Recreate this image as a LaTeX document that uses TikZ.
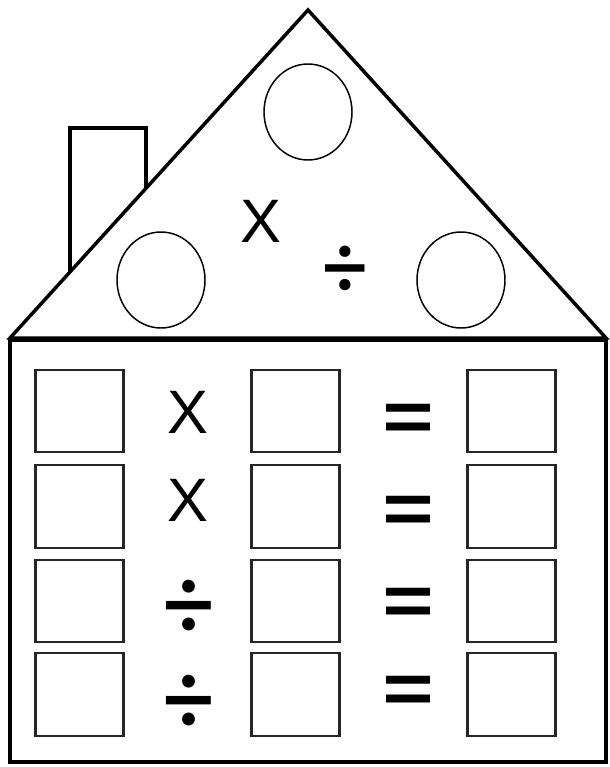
\documentclass[tikz,border=0pt]{standalone}
\usepackage{fontspec}
\setmainfont{Liberation Sans}
\newfontfamily\signfont{Poppins}[UprightFont=* Medium]
\usetikzlibrary{positioning,shapes.geometric}
\tikzset{
  wall/.style    = {draw=black, line width=2.6pt, line join=miter},
  flue/.style    = {draw=black, line width=2.4pt},
  ansbox/.style  = {draw=black!85, line width=1.7pt, minimum width=66pt,
                    minimum height=62pt, inner sep=0pt},
  ball/.style    = {ellipse, draw=black, line width=1.1pt, minimum width=66pt,
                    minimum height=72pt, inner sep=0pt},
  opsign/.style  = {font=\fontsize{46}{46}\selectfont, inner sep=0pt},
  divsign/.style = {font=\fontsize{66}{66}\selectfont\signfont, inner sep=0pt},
  eqsign/.style  = {font=\fontsize{62}{62}\selectfont\signfont, inner sep=0pt},
}

\begin{document}
\begin{tikzpicture}[x=0.75pt, y=-0.75pt]
  \useasboundingbox[fill=white] (0,0) rectangle (610,767);

  % chimney and roof
  \draw[flue] (70,272) -- (70,128) -- (146,128) -- (146,188);
  \draw[wall, fill=white] (10,338) -- (308,10) -- (606,338) -- cycle;
  \node[ball] (topball)   at (308,112) {};
  \node[ball] (leftball)  at (161,280) {};
  \node[ball] (rightball) at (461,280) {};
  \node[opsign]  (roofmul) at (261,221) {X};
  \node[divsign, scale=0.88] (roofdiv) at (345,271) {÷};

  % walls
  \draw[wall] (10,340) rectangle (606,762);

  % row 1
  \node[ansbox] (a1) at (79.5,411) {};
  \node[opsign] (o1) at (188,412) {X};
  \node[ansbox] (b1) at (295.5,411) {};
  \node[eqsign] (e1) at (408,426) {=};
  \node[ansbox] (c1) at (511.5,411) {};

  % row 2
  \node[ansbox] (a2) at (79.5,506.5) {};
  \node[opsign] (o2) at (188,500) {X};
  \node[ansbox] (b2) at (295.5,506.5) {};
  \node[eqsign] (e2) at (408,518) {=};
  \node[ansbox] (c2) at (511.5,506.5) {};

  % row 3
  \node[ansbox]  (a3) at (79.5,601) {};
  \node[divsign] (o3) at (188,609) {÷};
  \node[ansbox]  (b3) at (295.5,601) {};
  \node[eqsign]  (e3) at (408,610) {=};
  \node[ansbox]  (c3) at (511.5,601) {};

  % row 4
  \node[ansbox]  (a4) at (79.5,694.5) {};
  \node[divsign] (o4) at (188,704) {÷};
  \node[ansbox]  (b4) at (295.5,694.5) {};
  \node[eqsign]  (e4) at (408,698) {=};
  \node[ansbox]  (c4) at (511.5,694.5) {};
\end{tikzpicture}
\end{document}
